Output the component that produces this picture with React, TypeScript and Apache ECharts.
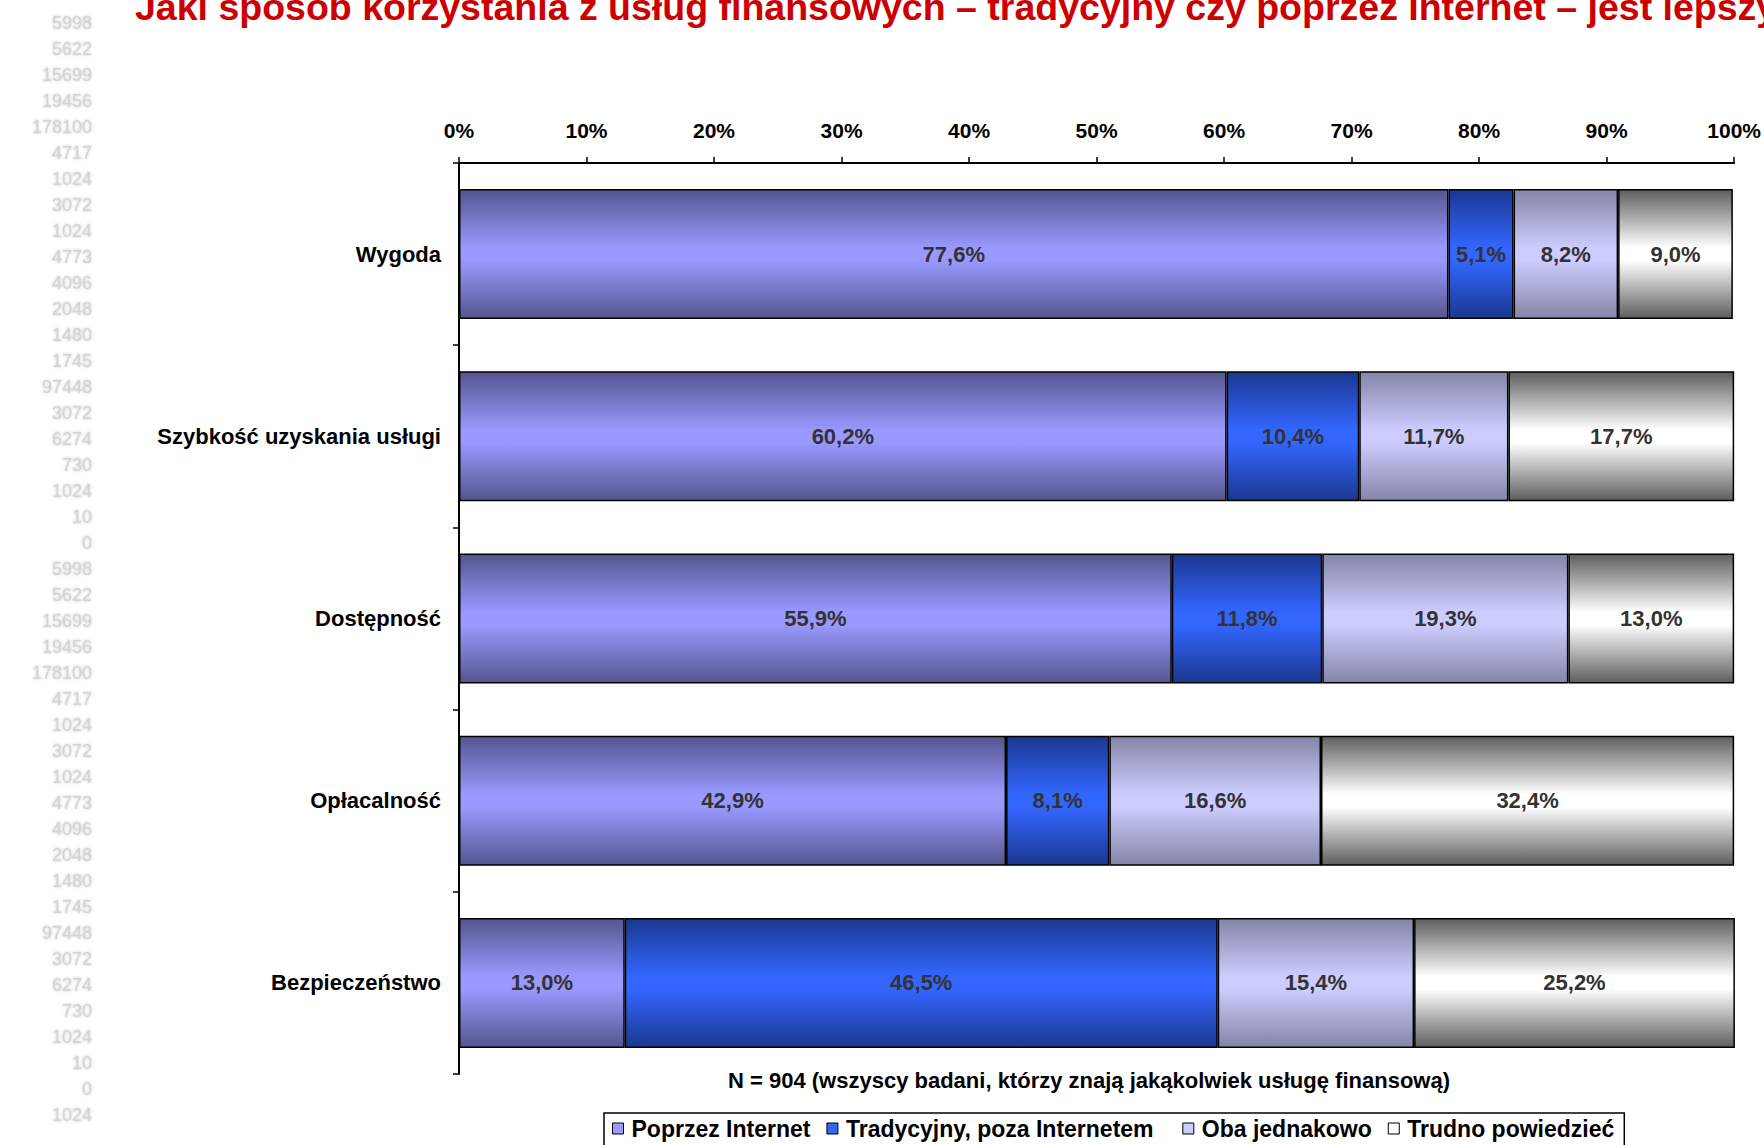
import React, { useEffect, useRef } from "react";
import * as echarts from "echarts";

const titleText = "Jaki sposób korzystania z usług finansowych – tradycyjny czy poprzez Internet – jest lepszy?";
const subtitleText = "N = 904 (wszyscy badani, którzy znają jakąkolwiek usługę finansową)";
const categories = ["Wygoda", "Szybkość uzyskania usługi", "Dostępność", "Opłacalność", "Bezpieczeństwo"];
const seriesNames = ["Poprzez Internet", "Tradycyjny, poza Internetem", "Oba jednakowo", "Trudno powiedzieć"];
const internet = [77.6, 60.2, 55.9, 42.9, 13.0];
const tradycyjny = [5.1, 10.4, 11.8, 8.1, 46.5];
const oba = [8.2, 11.7, 19.3, 16.6, 15.4];
const trudno = [9.0, 17.7, 13.0, 32.4, 25.2];
const sideNumbers = [
  "5998", "5622", "15699", "19456", "178100", "4717", "1024", "3072", "1024", "4773", "4096", "2048", "1480", "1745",
  "97448", "3072", "6274", "730", "1024", "10", "0",
  "5998", "5622", "15699", "19456", "178100", "4717", "1024", "3072", "1024", "4773", "4096", "2048", "1480", "1745",
  "97448", "3072", "6274", "730", "1024", "10", "0", "1024",
];

const FONT = "'Liberation Sans', Arial, sans-serif";

const grad = (edge: string, mid: string) =>
  new echarts.graphic.LinearGradient(0, 0, 0, 1, [
    { offset: 0, color: edge },
    { offset: 0.45, color: mid },
    { offset: 0.55, color: mid },
    { offset: 1, color: edge },
  ]);

const palette = [
  { edge: "#55558f", mid: "#9999ff", flat: "#9999ff" },
  { edge: "#1a3890", mid: "#3366ff", flat: "#3366ff" },
  { edge: "#8585a8", mid: "#ccccff", flat: "#ccccff" },
  { edge: "#5e5e5e", mid: "#ffffff", flat: "#ffffff" },
];

export default function App() {
  const ref = useRef<HTMLDivElement>(null);
  useEffect(() => {
    if (!ref.current) return;
    const chart = echarts.init(ref.current, undefined, { renderer: "svg" });
    const dataSets = [internet, tradycyjny, oba, trudno];
    const series = dataSets.map((d, i) => ({
      type: "bar",
      name: seriesNames[i],
      stack: "total",
      data: d,
      barWidth: 130,
      itemStyle: {
        color: grad(palette[i].edge, palette[i].mid),
        borderColor: "#000",
        borderWidth: 1.5,
      },
      label: {
        show: true,
        position: "inside",
        formatter: (p: any) => p.value.toFixed(1).replace(".", ",") + "%",
        color: "#333",
        fontFamily: FONT,
        fontWeight: "bold",
        fontSize: 22,
      },
    }));

    const graphics: any[] = [
      {
        type: "text",
        left: 135,
        top: -12,
        style: {
          text: titleText,
          fill: "#cc0000",
          font: `bold 37.5px ${FONT}`,
        },
      },
      {
        type: "text",
        x: 1089,
        y: 1080,
        style: {
          text: subtitleText,
          fill: "#000",
          font: `bold 22px ${FONT}`,
          align: "center",
          verticalAlign: "middle",
        },
      },
      ...sideNumbers.map((t, i) => ({
        type: "text",
        x: 92,
        y: 22.5 + i * 26,
        style: {
          text: t,
          fill: "#d4d4d4",
          font: `18px ${FONT}`,
          align: "right",
          verticalAlign: "middle",
          textShadowColor: "#c8c8c8",
          textShadowBlur: 3,
        },
      })),
    ];

    chart.setOption({
      animation: false,
      backgroundColor: "#ffffff",
      grid: { left: 459, right: 29, top: 163, height: 911, containLabel: false },
      xAxis: {
        type: "value",
        position: "top",
        min: 0,
        max: 100,
        interval: 10,
        axisLine: { show: true, lineStyle: { color: "#000", width: 2 } },
        axisTick: { show: true, length: 6, inside: false, lineStyle: { color: "#000", width: 1.5 } },
        splitLine: { show: false },
        axisLabel: {
          formatter: "{value}%",
          color: "#000",
          fontFamily: FONT,
          fontWeight: "bold",
          fontSize: 21,
          margin: 22,
        },
      },
      yAxis: {
        type: "category",
        inverse: true,
        data: categories,
        axisLine: { show: true, lineStyle: { color: "#000", width: 2 } },
        axisTick: { show: true, length: 6, alignWithLabel: false, lineStyle: { color: "#000", width: 1.5 } },
        axisLabel: {
          color: "#000",
          fontFamily: FONT,
          fontWeight: "bold",
          fontSize: 22,
          margin: 18,
        },
      },
      legend: {
        left: 604,
        top: 1113,
        orient: "horizontal",
        padding: [4, 10, 30, 8],
        itemGap: 16,
        itemWidth: 11,
        itemHeight: 11,
        borderColor: "#000",
        borderWidth: 1.5,
        backgroundColor: "#fff",
        icon: "rect",
        formatter: (name: string) => (name === seriesNames[1] ? name + "  " : name),
        textStyle: { color: "#000", fontFamily: FONT, fontWeight: "bold", fontSize: 23, padding: [0, 0, 0, 3] },
        data: seriesNames.map((n, i) => ({
          name: n,
          itemStyle: { color: palette[i].flat, borderColor: "#000", borderWidth: 1 },
        })),
      },
      graphic: graphics,
      series,
    });
    return () => chart.dispose();
  }, []);
  return (
    <div
      ref={ref}
      style={{ position: "fixed", left: 0, top: 0, width: 1764, height: 1145 }}
    />
  );
}
